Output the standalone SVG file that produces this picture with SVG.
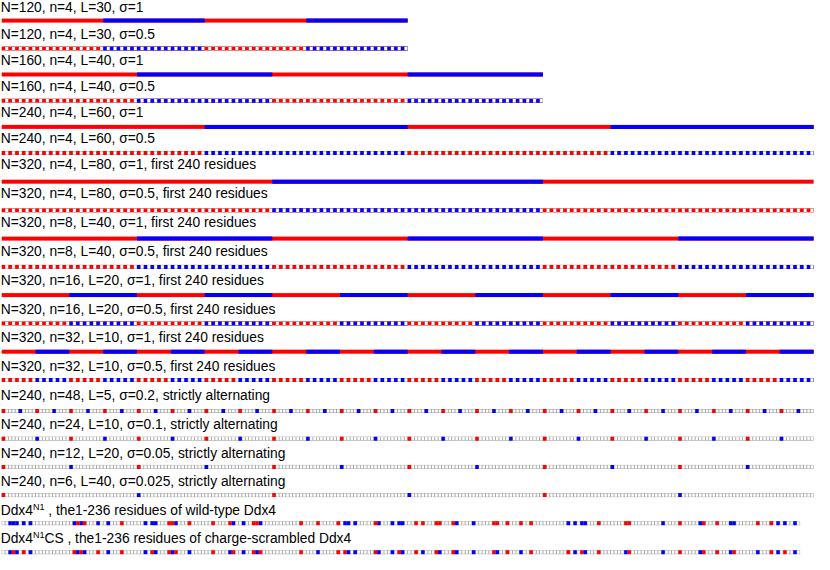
<svg xmlns="http://www.w3.org/2000/svg" width="830" height="570" viewBox="0 0 830 570">
<style>
.t{font-family:"Liberation Sans",Arial,Helvetica,sans-serif;font-size:13.8px;fill:#000}
.r{fill:#f00}
.lb{stroke:#00f;stroke-width:4;fill:none}
.hg{stroke:#999;stroke-width:4;stroke-dasharray:3.383 3.383}
.hw{stroke:#fff;stroke-width:3.2;stroke-dasharray:2.583 4.183}
.ar{stroke:#f00;stroke-width:4}
.ab{stroke:#00f;stroke-width:4}
</style>
<defs>
<rect id="R" y="-2" width="3.383" height="4" fill="#f00"/>
<rect id="B" y="-2" width="3.383" height="4" fill="#00f"/>
<g id="n240"><rect x="1.7" y="-2" width="811.92" height="4" fill="#999"/><line x1="2.1" x2="813.62" stroke="#fff" stroke-width="3.2" stroke-dasharray="2.583 0.8"/></g>
<g id="n236"><rect x="1.7" y="-2" width="798.39" height="4" fill="#999"/><line x1="2.1" x2="800.09" stroke="#fff" stroke-width="3.2" stroke-dasharray="2.583 0.8"/></g>
</defs>

<g id="row01"><text class="t" x="0.7" y="12.3">N=120, n=4, L=30, σ=1</text>
<g transform="translate(0,20.6)"><rect class="r" x="1.7" y="-2" width="405.96" height="4"/><line class="lb" x1="103.19" x2="407.66" stroke-dasharray="101.49 101.49"/></g></g>

<g id="row02"><text class="t" x="0.7" y="39.3">N=120, n=4, L=30, σ=0.5</text>
<g transform="translate(0,48.5)"><rect class="r" x="1.7" y="-2" width="405.96" height="4"/><line class="lb" x1="103.19" x2="407.66" stroke-dasharray="101.49 101.49"/><line class="hg" x1="5.083" x2="407.66"/><line class="hw" x1="5.483" x2="407.66"/></g></g>

<g id="row03"><text class="t" x="0.7" y="65.3">N=160, n=4, L=40, σ=1</text>
<g transform="translate(0,74.5)"><rect class="r" x="1.7" y="-2" width="541.28" height="4"/><line class="lb" x1="137.02" x2="542.98" stroke-dasharray="135.32 135.32"/></g></g>

<g id="row04"><text class="t" x="0.7" y="91.3">N=160, n=4, L=40, σ=0.5</text>
<g transform="translate(0,100.7)"><rect class="r" x="1.7" y="-2" width="541.28" height="4"/><line class="lb" x1="137.02" x2="542.98" stroke-dasharray="135.32 135.32"/><line class="hg" x1="5.083" x2="542.98"/><line class="hw" x1="5.483" x2="542.98"/></g></g>

<g id="row05"><text class="t" x="0.7" y="117.3">N=240, n=4, L=60, σ=1</text>
<g transform="translate(0,126.9)"><rect class="r" x="1.7" y="-2" width="811.92" height="4"/><line class="lb" x1="204.68" x2="813.62" stroke-dasharray="202.98 202.98"/></g></g>

<g id="row06"><text class="t" x="0.7" y="143.3">N=240, n=4, L=60, σ=0.5</text>
<g transform="translate(0,153)"><rect class="r" x="1.7" y="-2" width="811.92" height="4"/><line class="lb" x1="204.68" x2="813.62" stroke-dasharray="202.98 202.98"/><line class="hg" x1="5.083" x2="813.62"/><line class="hw" x1="5.483" x2="813.62"/></g></g>

<g id="row07"><text class="t" x="0.7" y="169.3">N=320, n=4, L=80, σ=1, first 240 residues</text>
<g transform="translate(0,181.7)"><rect class="r" x="1.7" y="-2" width="811.92" height="4"/><line class="lb" x1="272.34" x2="813.62" stroke-dasharray="270.64 270.64"/></g></g>

<g id="row08"><text class="t" x="0.7" y="198.1">N=320, n=4, L=80, σ=0.5, first 240 residues</text>
<g transform="translate(0,210.3)"><rect class="r" x="1.7" y="-2" width="811.92" height="4"/><line class="lb" x1="272.34" x2="813.62" stroke-dasharray="270.64 270.64"/><line class="hg" x1="5.083" x2="813.62"/><line class="hw" x1="5.483" x2="813.62"/></g></g>

<g id="row09"><text class="t" x="0.7" y="227">N=320, n=8, L=40, σ=1, first 240 residues</text>
<g transform="translate(0,238.6)"><rect class="r" x="1.7" y="-2" width="811.92" height="4"/><line class="lb" x1="137.02" x2="813.62" stroke-dasharray="135.32 135.32"/></g></g>

<g id="row10"><text class="t" x="0.7" y="255.8">N=320, n=8, L=40, σ=0.5, first 240 residues</text>
<g transform="translate(0,266.9)"><rect class="r" x="1.7" y="-2" width="811.92" height="4"/><line class="lb" x1="137.02" x2="813.62" stroke-dasharray="135.32 135.32"/><line class="hg" x1="5.083" x2="813.62"/><line class="hw" x1="5.483" x2="813.62"/></g></g>

<g id="row11"><text class="t" x="0.7" y="284.7">N=320, n=16, L=20, σ=1, first 240 residues</text>
<g transform="translate(0,295.1)"><rect class="r" x="1.7" y="-2" width="811.92" height="4"/><line class="lb" x1="69.36" x2="813.62" stroke-dasharray="67.66 67.66"/></g></g>

<g id="row12"><text class="t" x="0.7" y="313.5">N=320, n=16, L=20, σ=0.5, first 240 residues</text>
<g transform="translate(0,323.4)"><rect class="r" x="1.7" y="-2" width="811.92" height="4"/><line class="lb" x1="69.36" x2="813.62" stroke-dasharray="67.66 67.66"/><line class="hg" x1="5.083" x2="813.62"/><line class="hw" x1="5.483" x2="813.62"/></g></g>

<g id="row13"><text class="t" x="0.7" y="342.4">N=320, n=32, L=10, σ=1, first 240 residues</text>
<g transform="translate(0,351.7)"><rect class="r" x="1.7" y="-2" width="811.92" height="4"/><line class="lb" x1="35.53" x2="813.62" stroke-dasharray="33.83 33.83"/></g></g>

<g id="row14"><text class="t" x="0.7" y="371.2">N=320, n=32, L=10, σ=0.5, first 240 residues</text>
<g transform="translate(0,380)"><rect class="r" x="1.7" y="-2" width="811.92" height="4"/><line class="lb" x1="35.53" x2="813.62" stroke-dasharray="33.83 33.83"/><line class="hg" x1="5.083" x2="813.62"/><line class="hw" x1="5.483" x2="813.62"/></g></g>

<g id="row15"><text class="t" x="0.7" y="400">N=240, n=48, L=5, σ=0.2, strictly alternating</text>
<g transform="translate(0,411)"><use href="#n240"/><line class="ar" x1="1.7" x2="813.62" stroke-dasharray="3.383 30.447"/><line class="ab" x1="18.615" x2="813.62" stroke-dasharray="3.383 30.447"/></g></g>

<g id="row16"><text class="t" x="0.7" y="428.8">N=240, n=24, L=10, σ=0.1, strictly alternating</text>
<g transform="translate(0,438.7)"><use href="#n240"/><line class="ar" x1="1.7" x2="813.62" stroke-dasharray="3.383 64.277"/><line class="ab" x1="35.53" x2="813.62" stroke-dasharray="3.383 64.277"/></g></g>

<g id="row17"><text class="t" x="0.7" y="457.5">N=240, n=12, L=20, σ=0.05, strictly alternating</text>
<g transform="translate(0,466.9)"><use href="#n240"/><line class="ar" x1="1.7" x2="813.62" stroke-dasharray="3.383 131.937"/><line class="ab" x1="69.36" x2="813.62" stroke-dasharray="3.383 131.937"/></g></g>

<g id="row18"><text class="t" x="0.7" y="486.3">N=240, n=6, L=40, σ=0.025, strictly alternating</text>
<g transform="translate(0,495.1)"><use href="#n240"/><line class="ar" x1="1.7" x2="813.62" stroke-dasharray="3.383 267.257"/><line class="ab" x1="137.02" x2="813.62" stroke-dasharray="3.383 267.257"/></g></g>

<g id="row19"><text class="t" x="0.7" y="515">Ddx4<tspan font-size="9" dy="-5.5">N1</tspan><tspan dy="5.5"> , the1-236 residues of wild-type Ddx4</tspan></text>
<g transform="translate(0,523.2)"><use href="#n236"/>
<use href="#B" x="8.466"/><use href="#B" x="11.849"/><use href="#B" x="15.232"/><use href="#B" x="21.998"/><use href="#B" x="28.764"/><use href="#B" x="72.743"/><use href="#B" x="79.509"/><use href="#B" x="96.424"/><use href="#B" x="106.573"/><use href="#B" x="143.786"/><use href="#B" x="150.552"/><use href="#B" x="153.935"/><use href="#B" x="174.233"/><use href="#B" x="231.744"/><use href="#B" x="241.893"/><use href="#B" x="258.808"/><use href="#B" x="343.383"/><use href="#B" x="346.766"/><use href="#B" x="353.532"/><use href="#B" x="377.213"/><use href="#B" x="390.745"/><use href="#B" x="397.511"/><use href="#B" x="400.894"/><use href="#B" x="455.022"/><use href="#B" x="471.937"/><use href="#B" x="566.661"/><use href="#B" x="573.427"/><use href="#B" x="580.193"/><use href="#B" x="583.576"/><use href="#B" x="661.385"/><use href="#B" x="698.598"/><use href="#B" x="729.045"/><use href="#B" x="732.428"/><use href="#B" x="776.407"/><use href="#B" x="783.173"/><use href="#B" x="793.322"/>
<use href="#R" x="76.126"/><use href="#R" x="82.892"/><use href="#R" x="120.105"/><use href="#R" x="167.467"/><use href="#R" x="170.85"/><use href="#R" x="187.765"/><use href="#R" x="211.446"/><use href="#R" x="228.361"/><use href="#R" x="252.042"/><use href="#R" x="255.425"/><use href="#R" x="299.404"/><use href="#R" x="316.319"/><use href="#R" x="336.617"/><use href="#R" x="373.83"/><use href="#R" x="414.426"/><use href="#R" x="421.192"/><use href="#R" x="434.724"/><use href="#R" x="438.107"/><use href="#R" x="451.639"/><use href="#R" x="492.235"/><use href="#R" x="495.618"/><use href="#R" x="505.767"/><use href="#R" x="519.299"/><use href="#R" x="529.448"/><use href="#R" x="597.108"/><use href="#R" x="624.172"/><use href="#R" x="627.555"/><use href="#R" x="678.3"/><use href="#R" x="701.981"/><use href="#R" x="715.513"/><use href="#R" x="756.109"/><use href="#R" x="769.641"/>
</g></g>

<g id="row20"><text class="t" x="0.7" y="543.3">Ddx4<tspan font-size="9" dy="-5.5">N1</tspan><tspan dy="5.5">CS , the1-236 residues of charge-scrambled Ddx4</tspan></text>
<g transform="translate(0,552.2)"><use href="#n236"/>
<use href="#B" x="8.466"/><use href="#R" x="11.849"/><use href="#B" x="15.232"/><use href="#R" x="21.998"/><use href="#B" x="28.764"/>
<use href="#R" x="72.743"/><use href="#B" x="76.126"/><use href="#R" x="79.509"/><use href="#B" x="82.892"/><use href="#R" x="96.424"/><use href="#B" x="106.573"/><use href="#R" x="120.105"/>
<use href="#B" x="143.786"/><use href="#R" x="150.552"/><use href="#B" x="153.935"/><use href="#R" x="167.467"/><use href="#B" x="170.85"/><use href="#R" x="174.233"/><use href="#B" x="187.765"/>
<use href="#R" x="211.446"/><use href="#B" x="228.361"/><use href="#R" x="231.744"/><use href="#B" x="241.893"/><use href="#R" x="252.042"/><use href="#B" x="255.425"/><use href="#R" x="258.808"/>
<use href="#R" x="299.404"/><use href="#B" x="316.319"/><use href="#R" x="336.617"/><use href="#R" x="343.383"/><use href="#B" x="346.766"/><use href="#B" x="353.532"/>
<use href="#R" x="373.83"/><use href="#B" x="377.213"/><use href="#B" x="390.745"/><use href="#R" x="397.511"/><use href="#B" x="400.894"/>
<use href="#R" x="414.426"/><use href="#B" x="421.192"/><use href="#R" x="434.724"/><use href="#B" x="438.107"/><use href="#R" x="451.639"/><use href="#B" x="455.022"/><use href="#B" x="471.937"/>
<use href="#R" x="492.235"/><use href="#B" x="495.618"/><use href="#R" x="505.767"/><use href="#B" x="519.299"/><use href="#R" x="529.448"/>
<use href="#R" x="566.661"/><use href="#B" x="573.427"/><use href="#R" x="580.193"/><use href="#B" x="583.576"/><use href="#R" x="597.108"/>
<use href="#B" x="624.172"/><use href="#R" x="627.555"/><use href="#B" x="661.385"/><use href="#R" x="678.3"/><use href="#B" x="698.598"/><use href="#R" x="701.981"/><use href="#R" x="715.513"/>
<use href="#B" x="729.045"/><use href="#R" x="732.428"/><use href="#B" x="756.109"/><use href="#R" x="769.641"/><use href="#B" x="776.407"/><use href="#R" x="783.173"/><use href="#B" x="793.322"/>
</g></g>
</svg>
